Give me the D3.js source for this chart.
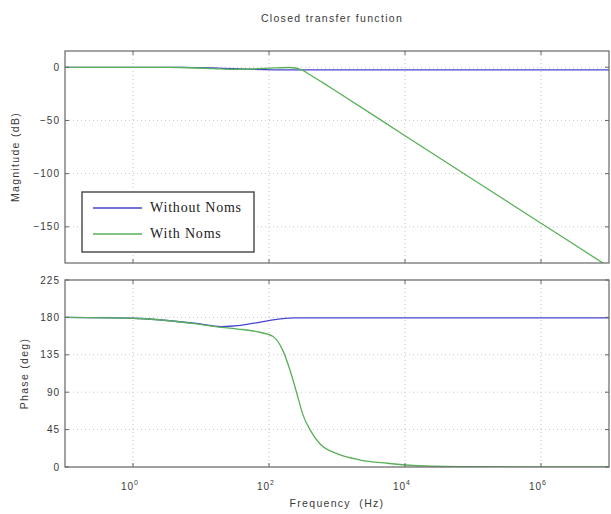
<!DOCTYPE html>
<html lang="en">
<head>
  <meta charset="UTF-8">
  <title>Closed transfer function</title>
  <script src="https://d3js.org/d3.v7.min.js"></script>
  <style>
    body { margin: 0; background: #fff; }
    svg { display: block; }
    .tick-label, .axis-title { font-family: "Liberation Sans", Arial, sans-serif; fill: #3a3a3a; }
    .tick-label { letter-spacing: 1px; }
    .axis-title { letter-spacing: 1.3px; }
    .legend text { font-family: "Liberation Serif", "DejaVu Serif", serif; font-size: 14px; letter-spacing: 0.8px; fill: #222; }
    .grid line { stroke: #c8c8c8; stroke-width: 1; stroke-dasharray: 1,3; }
  </style>
</head>
<body>
  <svg id="chart" width="611" height="514"></svg>

  <script>
    // magnitude data (frequency in Hz, gain in dB)
    const magFreq = [0.1, 1, 5, 15, 30, 60, 120, 200, 300, 400, 600, 1000, 1e4, 1e5, 1e6, 1e7];
    const magWithout = [0, 0, 0, -0.6, -1.4, -2.0, -2.4, -2.5, -2.5, -2.5, -2.5, -2.5, -2.5, -2.5, -2.5, -2.5];
    const magWith = [0, 0, -0.2, -1.2, -2.0, -1.6, -0.6, -0.2, -2.2, -7, -14, -23, -64.3, -105.5, -146.6, -187.7];

    // phase data (frequency in Hz, phase in deg)
    const phaseFreq = [0.1, 1, 8, 20, 35, 65, 115, 160, 225, 270, 315, 400, 560, 1000, 2200, 5500, 16000, 1e5, 1e7];
    const phaseWithout = [180, 179, 173, 169, 170, 173.5, 177, 178.5, 179.5, 179.5, 179.5, 179.5, 179.5, 179.5, 179.5, 179.5, 179.5, 179.5, 179.5];
    const phaseWith = [180, 179, 172.5, 168, 166, 163, 157, 140, 105, 82, 63, 45, 28, 16, 8.4, 4.5, 1.5, 0.3, 0];

    const xTicks = [1, 100, 1e4, 1e6];
    const xTickExp = ["0", "2", "4", "6"];
    const magTicks = [0, -50, -100, -150];
    const phaseTicks = [0, 45, 90, 135, 180, 225];

    const seriesNames = ["Without Noms", "With Noms"];
    const colors = ["#4646cf", "#58b058"];

    const svg = d3.select("#chart");
    const left = 65, right = 609;

    const x = d3.scaleLog().domain([0.1, 1e7]).range([left, right]);
    const yMag = d3.scaleLinear().domain([-184, 15.3]).range([263, 51]);
    const yPhase = d3.scaleLinear().domain([0, 225]).range([467, 280]);

    // title
    svg.append("text")
      .attr("class", "axis-title")
      .attr("x", 332).attr("y", 22)
      .attr("text-anchor", "middle")
      .attr("font-size", 10.5)
      .text("Closed transfer function");

    function drawPanel(y, ticks, fmt, freq, series, label, labelX, clipId, showX) {
      const top = y.range()[1], bottom = y.range()[0];
      const g = svg.append("g");

      g.append("clipPath").attr("id", clipId)
        .append("rect")
        .attr("x", left).attr("y", top)
        .attr("width", right - left).attr("height", bottom - top);

      // grid lines
      const grid = g.append("g").attr("class", "grid");
      grid.selectAll(".gx").data(xTicks).join("line")
        .attr("x1", d => x(d)).attr("x2", d => x(d))
        .attr("y1", top).attr("y2", bottom);
      grid.selectAll(".gy").data(ticks).join("line")
        .attr("x1", left).attr("x2", right)
        .attr("y1", d => y(d)).attr("y2", d => y(d));

      // curves
      const line = d3.line()
        .x((d, i) => x(freq[i]))
        .y(d => y(d))
        .curve(d3.curveMonotoneX);

      g.append("g").attr("clip-path", `url(#${clipId})`)
        .selectAll("path").data(series).join("path")
        .attr("fill", "none")
        .attr("stroke", (d, i) => colors[i])
        .attr("stroke-width", 1.3)
        .attr("d", d => line(d));

      // frame
      g.append("rect")
        .attr("x", left).attr("y", top)
        .attr("width", right - left).attr("height", bottom - top)
        .attr("fill", "none").attr("stroke", "#666").attr("stroke-width", 1.2);

      // ticks inside the frame
      const tk = g.append("g").attr("stroke", "#666").attr("stroke-width", 1);
      xTicks.forEach(t => {
        tk.append("line").attr("x1", x(t)).attr("x2", x(t)).attr("y1", top).attr("y2", top + 4);
        tk.append("line").attr("x1", x(t)).attr("x2", x(t)).attr("y1", bottom).attr("y2", bottom - 4);
      });
      ticks.forEach(t => {
        tk.append("line").attr("x1", left).attr("x2", left + 4).attr("y1", y(t)).attr("y2", y(t));
        tk.append("line").attr("x1", right).attr("x2", right - 4).attr("y1", y(t)).attr("y2", y(t));
      });

      g.selectAll(".ylab").data(ticks).join("text")
        .attr("class", "tick-label")
        .attr("x", left - 5).attr("y", d => y(d) + 3.5)
        .attr("text-anchor", "end")
        .attr("font-size", 10)
        .text(fmt);

      g.append("text")
        .attr("class", "axis-title")
        .attr("transform", `translate(${labelX},${(top + bottom) / 2}) rotate(-90)`)
        .attr("text-anchor", "middle")
        .attr("font-size", 10.5)
        .text(label);

      if (showX) {
        const xl = g.selectAll(".xlab").data(xTicks).join("text")
          .attr("class", "tick-label")
          .attr("x", d => x(d) - 3).attr("y", bottom + 23)
          .attr("text-anchor", "middle")
          .attr("font-size", 10);
        xl.append("tspan").text("10");
        xl.append("tspan")
          .attr("dy", -5).attr("font-size", 7)
          .text((d, i) => xTickExp[i]);

        g.append("text")
          .attr("class", "axis-title")
          .attr("x", (left + right) / 2).attr("y", bottom + 40)
          .attr("text-anchor", "middle")
          .attr("font-size", 10.5)
          .attr("xml:space", "preserve")
          .text("Frequency  (Hz)");
      }
      return g;
    }

    drawPanel(yMag, magTicks, d => d < 0 ? "\u2212" + Math.abs(d) : d,
      magFreq, [magWithout, magWith], "Magnitude (dB)", 19, "clipMag", false);
    drawPanel(yPhase, phaseTicks, d => d,
      phaseFreq, [phaseWithout, phaseWith], "Phase (deg)", 28, "clipPhase", true);

    // legend
    const legend = svg.append("g").attr("class", "legend");
    legend.append("rect")
      .attr("x", 82).attr("y", 192)
      .attr("width", 172).attr("height", 60)
      .attr("fill", "#fff").attr("stroke", "#444").attr("stroke-width", 1.4);
    seriesNames.forEach((name, i) => {
      const ly = 208 + i * 26;
      legend.append("line")
        .attr("x1", 93).attr("x2", 142)
        .attr("y1", ly).attr("y2", ly)
        .attr("stroke", colors[i]).attr("stroke-width", 1.3);
      legend.append("text")
        .attr("x", 150).attr("y", ly + 4)
        .text(name);
    });
  </script>
</body>
</html>
